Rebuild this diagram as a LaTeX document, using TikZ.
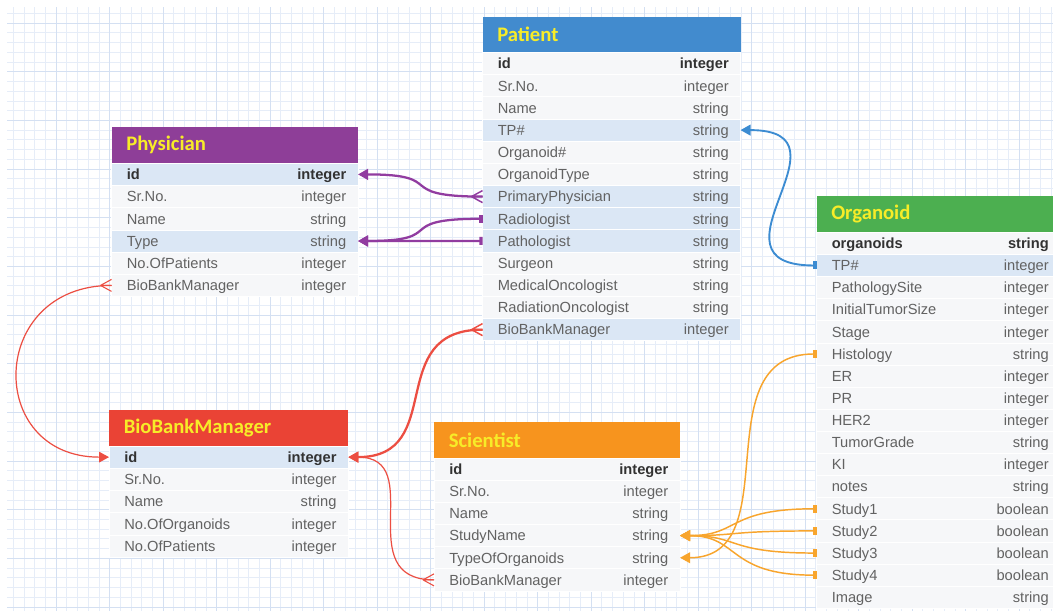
\documentclass[tikz,border=0pt]{standalone}
\usepackage{fontspec}
\setmainfont{Liberation Sans}
\newfontfamily\ttlfont{Carlito}
\usetikzlibrary{arrows.meta,calc}
\definecolor{cPat}{RGB}{66,139,206}
\definecolor{cPhy}{RGB}{142,62,152}
\definecolor{cOrg}{RGB}{76,175,80}
\definecolor{cBbm}{RGB}{234,67,53}
\definecolor{cSci}{RGB}{247,148,30}
\definecolor{ttlY}{RGB}{247,236,40}
\definecolor{rowH}{RGB}{219,231,245}
\definecolor{rowN}{RGB}{246,247,249}
\definecolor{txtG}{RGB}{98,98,98}
\definecolor{txtB}{RGB}{50,50,50}
\definecolor{gridMin}{RGB}{230,237,248}
\definecolor{gridMaj}{RGB}{212,224,242}
\definecolor{lPur}{RGB}{145,60,160}
\definecolor{lBlu}{RGB}{60,140,210}
\definecolor{lRed}{RGB}{236,78,66}
\definecolor{lOra}{RGB}{248,165,45}
\def\u{0.75pt}
\tikzset{
  rowbox/.style={draw=white, line width=0.6pt, inner sep=0pt, outer sep=0pt},
  hdr/.style={draw=none, inner sep=0pt, outer sep=0pt},
  ttl/.style={inner sep=0pt, font=\ttlfont\bfseries\fontsize{15.5}{18}\selectfont, text=ttlY},
  lab/.style={inner sep=0pt, font=\fontsize{11}{13}\selectfont, text=txtG, text height=7.9pt, text depth=0pt},
  arr/.style={-{Triangle[length=7.5pt,width=8pt]}},
  barr/.style={{Rectangle[length=2.4pt,width=6pt]}-{Triangle[length=7.5pt,width=8pt]}},
  pur/.style={draw=lPur, line width=1.7pt},
  blu/.style={draw=lBlu, line width=1.4pt},
  redthick/.style={draw=lRed, line width=1.7pt},
  redthin/.style={draw=lRed, line width=0.9pt},
  ora/.style={draw=lOra, line width=1.1pt},
}
% #1 name, #2 left x, #3 header top y, #4 width, #5 rows start y, #6 row height, #7 colour, #8 title, #9 rows
\newcommand\erdtable[9]{%
  \node[hdr, fill=#7, minimum width={#4*\u}, minimum height={(#5-#3)*\u}, anchor=north west] (#1) at (#2,#3) {};
  \node[ttl, anchor=west] (#1-title) at ($(#1.west)+(14.5,0)$) {#8};
  \foreach [count=\i] \lab/\typ/\f in {#9} {
    \node[rowbox, fill=\f, minimum width={#4*\u}, minimum height={#6*\u}, anchor=north west] (#1-\i) at (#2,{#5+(\i-1)*#6}) {};
    \node[lab, anchor=west] (#1-\i-l) at ($(#1-\i.west)+(15,0)$) {\ifnum\i=1 \bfseries\color{txtB}\fi\lab};
    \node[lab, anchor=east] (#1-\i-r) at ($(#1-\i.east)+(-11.5,0)$) {\ifnum\i=1 \bfseries\color{txtB}\fi\typ};
  }%
}
\newcommand\crowfoot[3]{\draw[draw=#2, line width=#3] ($(#1)+(-11,0)$) -- ($(#1)+(0,-6)$) ($(#1)+(-11,0)$) -- (#1) ($(#1)+(-11,0)$) -- ($(#1)+(0,6)$);}
\begin{document}
\begin{tikzpicture}[x=0.75pt, y=-0.75pt]
\useasboundingbox (0,0) rectangle (1053,611);
\clip (0,0) rectangle (1053,611);
\fill[white] (0,0) rectangle (1053,611);
% grid
\foreach \k in {1,...,98} \draw[gridMin, line width=0.5pt] ({2.6+10.7*\k},7) -- ({2.6+10.7*\k},611);
\foreach \k in {1,...,62} \draw[gridMin, line width=0.5pt] (7,{3.6+9.73*\k}) -- (1053,{3.6+9.73*\k});
\foreach \k in {5,10,...,95} \draw[gridMaj, line width=0.5pt] ({2.6+10.7*\k},7) -- ({2.6+10.7*\k},611);
\foreach \k in {2,7,...,62} \draw[gridMaj, line width=0.5pt] (7,{3.6+9.73*\k}) -- (1053,{3.6+9.73*\k});

% tables
\erdtable{pat}{482.5}{17}{258}{52.5}{22.17}{cPat}{Patient}{id/integer/rowN, Sr.No./integer/rowN, Name/string/rowN, TP\#/string/rowH, Organoid\#/string/rowN, OrganoidType/string/rowN, PrimaryPhysician/string/rowH, Radiologist/string/rowH, Pathologist/string/rowH, Surgeon/string/rowN, MedicalOncologist/string/rowN, RadiationOncologist/string/rowN, BioBankManager/integer/rowH}
\erdtable{phy}{111.5}{127.3}{246.5}{163.3}{22.2}{cPhy}{Physician}{id/integer/rowH, Sr.No./integer/rowN, Name/string/rowN, Type/string/rowH, No.OfPatients/integer/rowN, BioBankManager/integer/rowN}
\erdtable{org}{816.5}{196}{244}{232.3}{22.12}{cOrg}{Organoid}{organoids/string/rowN, TP\#/integer/rowH, PathologySite/integer/rowN, InitialTumorSize/integer/rowN, Stage/integer/rowN, Histology/string/rowN, ER/integer/rowN, PR/integer/rowN, HER2/integer/rowN, TumorGrade/string/rowN, KI/integer/rowN, notes/string/rowN, Study1/boolean/rowN, Study2/boolean/rowN, Study3/boolean/rowN, Study4/boolean/rowN, Image/string/rowN}
\erdtable{bbm}{109}{410}{239.3}{446}{22.25}{cBbm}{BioBankManager}{id/integer/rowH, Sr.No./integer/rowN, Name/string/rowN, No.OfOrganoids/integer/rowN, No.OfPatients/integer/rowN}
\erdtable{sci}{434}{421.7}{246}{458.2}{22.12}{cSci}{Scientist}{id/integer/rowN, Sr.No./integer/rowN, Name/string/rowN, StudyName/string/rowN, TypeOfOrganoids/string/rowN, BioBankManager/integer/rowN}

% purple connectors
\draw[pur, arr] (pat-7.west) .. controls +(-92,0) and +(92,0) .. (phy-1.east);
\crowfoot{pat-7.west}{lPur}{1.1pt}
\draw[pur, barr] (pat-8.west) .. controls +(-92,0) and +(92,0) .. (phy-4.east);
\draw[pur, barr] (pat-9.west) -- (phy-4.east);
% blue connector
\draw[blu, barr] (org-2.west) .. controls +(-120,0) and +(120,0) .. (pat-4.east);
% red connectors
\draw[redthin, arr] (phy-6.west) .. controls +(-124,0) and +(-124,0) .. (bbm-1.west);
\crowfoot{phy-6.west}{lRed}{0.8pt}
\draw[redthick, arr] (pat-13.west) .. controls +(-100,0) and +(100,0) .. (bbm-1.east);
\crowfoot{pat-13.west}{lRed}{1.1pt}
\draw[redthin, arr] (sci-6.west) .. controls +(-85,0) and +(80,0) .. (bbm-1.east);
\crowfoot{sci-6.west}{lRed}{0.8pt}
% orange connectors
\draw[ora, barr] (org-6.west) .. controls +(-115,0) and +(110,0) .. (sci-5.east);
\foreach \s in {13,14,15,16}
  \draw[ora, barr] (org-\s.west) .. controls +(-90,0) and +(60,0) .. (sci-4.east);
\end{tikzpicture}
\end{document}
